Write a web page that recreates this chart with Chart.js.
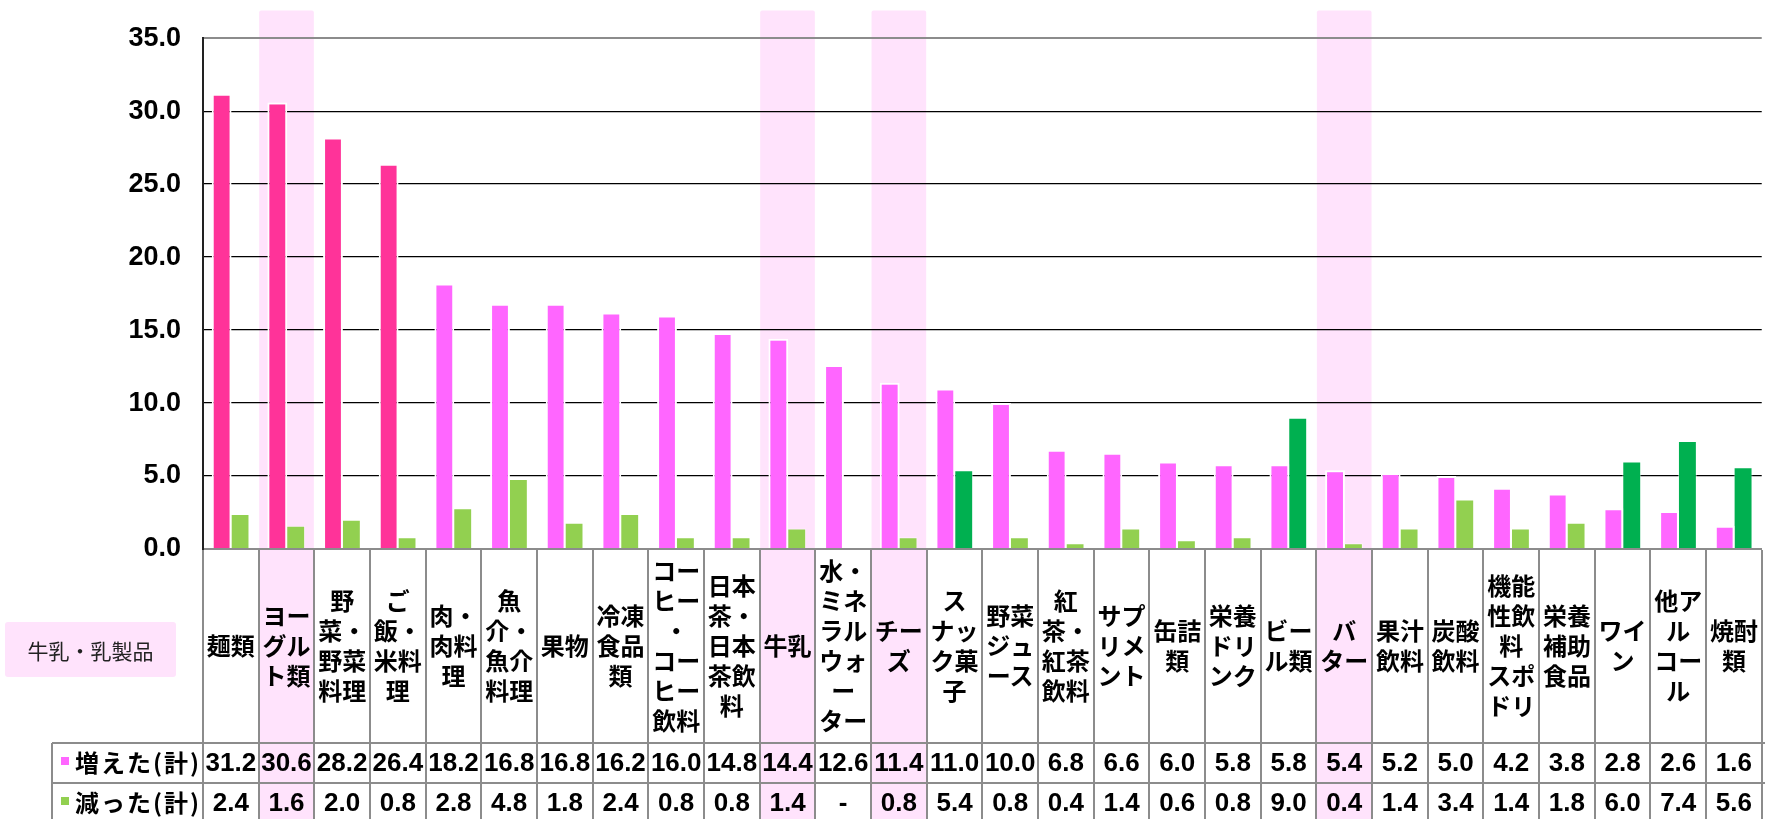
<!DOCTYPE html>
<html lang="ja">
<head>
<meta charset="utf-8">
<title>増えた・減った食品</title>
<script src="https://cdn.jsdelivr.net/npm/chart.js@4.4.1/dist/chart.umd.min.js"></script>
<style>
  html, body { margin: 0; padding: 0; background: #fff; overflow: hidden; }
  #wrap { position: relative; width: 1780px; height: 819px; }
</style>
</head>
<body>
<div id="wrap"><canvas id="food-chart"></canvas></div>
<script>
// category names, already split into the lines shown under each column
const categories = [
  ['麺類'],
  ['ヨー', 'グル', 'ト類'],
  ['野', '菜・', '野菜', '料理'],
  ['ご', '飯・', '米料', '理'],
  ['肉・', '肉料', '理'],
  ['魚', '介・', '魚介', '料理'],
  ['果物'],
  ['冷凍', '食品', '類'],
  ['コー', 'ヒー', '・', 'コー', 'ヒー', '飲料'],
  ['日本', '茶・', '日本', '茶飲', '料'],
  ['牛乳'],
  ['水・', 'ミネ', 'ラル', 'ウォ', 'ー', 'ター'],
  ['チー', 'ズ'],
  ['ス', 'ナッ', 'ク菓', '子'],
  ['野菜', 'ジュ', 'ース'],
  ['紅', '茶・', '紅茶', '飲料'],
  ['サプ', 'リメ', 'ント'],
  ['缶詰', '類'],
  ['栄養', 'ドリ', 'ンク'],
  ['ビー', 'ル類'],
  ['バ', 'ター'],
  ['果汁', '飲料'],
  ['炭酸', '飲料'],
  ['機能', '性飲', '料', 'スポ', 'ドリ'],
  ['栄養', '補助', '食品'],
  ['ワイ', 'ン'],
  ['他ア', 'ル', 'コー', 'ル'],
  ['焼酎', '類']
];

const increased = [31.2, 30.6, 28.2, 26.4, 18.2, 16.8, 16.8, 16.2, 16.0, 14.8, 14.4, 12.6, 11.4, 11.0,
                   10.0, 6.8, 6.6, 6.0, 5.8, 5.8, 5.4, 5.2, 5.0, 4.2, 3.8, 2.8, 2.6, 1.6];
const decreased = [2.4, 1.6, 2.0, 0.8, 2.8, 4.8, 1.8, 2.4, 0.8, 0.8, 1.4, null, 0.8, 5.4,
                   0.8, 0.4, 1.4, 0.6, 0.8, 9.0, 0.4, 1.4, 3.4, 1.4, 1.8, 6.0, 7.4, 5.6];

const seriesNames = ['増えた(計)', '減った(計)'];
const yTicks = [0, 5, 10, 15, 20, 25, 30, 35];
const dairyItems = ['ヨーグルト類', '牛乳', 'チーズ', 'バター'];
const dairyLabel = '牛乳・乳製品';

// bars above these values get the stronger colour
const INC_STRONG = 20;
const DEC_STRONG = 5;

const PINK = '#FF66FF', PINK_STRONG = '#FF3399';
const GREEN = '#92D050', GREEN_STRONG = '#00B050';
const BAND = '#FFE3FC';
const LINE = '#8C8C8C';

const NUM_FONT = "'Liberation Sans', Arial, sans-serif";
const JP_FONT = "'Noto Sans CJK JP', 'Noto Sans', sans-serif";

const LABEL_H = 194;   // height of the category name row
const ROW_H = 40;      // height of each value row

const isDairy = i => dairyItems.includes(categories[i].join(''));

const tablePlugin = {
  id: 'foodTable',
  beforeDraw(chart) {
    const { ctx, scales: { x } } = chart;
    const w = x.getPixelForValue(1) - x.getPixelForValue(0);
    ctx.save();
    ctx.fillStyle = BAND;
    categories.forEach((c, i) => {
      if (!isDairy(i)) return;
      const cx = x.getPixelForValue(i);
      ctx.beginPath();
      ctx.roundRect(cx - w / 2 + 0.5, 10.5, w - 1, chart.height, 2);
      ctx.fill();
    });
    ctx.restore();
  },
  afterDraw(chart) {
    const { ctx, chartArea: area, scales: { x } } = chart;
    const w = x.getPixelForValue(1) - x.getPixelForValue(0);
    const rowTop = area.bottom + LABEL_H;
    const headLeft = 52;

    ctx.save();
    ctx.strokeStyle = LINE;
    ctx.lineWidth = 2;
    ctx.beginPath();
    for (let i = 0; i <= categories.length; i++) {
      const bx = Math.round(x.getPixelForValue(0) - w / 2 + i * w);
      ctx.moveTo(bx, area.bottom + 1);
      ctx.lineTo(bx, chart.height);
    }
    for (let r = 0; r < 2; r++) {
      const ly = Math.round(rowTop + r * ROW_H);
      ctx.moveTo(headLeft, ly);
      ctx.lineTo(chart.width, ly);
    }
    ctx.moveTo(headLeft, rowTop);
    ctx.lineTo(headLeft, chart.height);
    ctx.stroke();

    // row headers with series colour keys
    const keys = [PINK, GREEN];
    [increased, decreased].forEach((vals, r) => {
      const cy = rowTop + r * ROW_H + ROW_H / 2;
      ctx.fillStyle = keys[r];
      ctx.fillRect(61, cy - 6, 8, 8);
      ctx.fillStyle = '#000';
      ctx.font = `bold 24px ${JP_FONT}`;
      ctx.textAlign = 'left';
      ctx.textBaseline = 'middle';
      ctx.letterSpacing = '2px';
      ctx.fillText(seriesNames[r], 75, cy);
      ctx.letterSpacing = '0px';

      ctx.font = `bold 26px ${NUM_FONT}`;
      ctx.textAlign = 'center';
      vals.forEach((v, i) => {
        const txt = v === null ? '-' : v.toFixed(1);
        ctx.fillText(txt, x.getPixelForValue(i), cy + 1);
      });
    });

    // key for the highlighted dairy columns
    ctx.fillStyle = BAND;
    ctx.beginPath();
    ctx.roundRect(5, 622, 171, 55, 3);
    ctx.fill();
    ctx.fillStyle = '#222';
    ctx.font = `21px ${JP_FONT}`;
    ctx.textAlign = 'center';
    ctx.fillText(dairyLabel, 90.5, 651);
    ctx.restore();
  }
};

new Chart(document.getElementById('food-chart'), {
  type: 'bar',
  data: {
    labels: categories,
    datasets: [
      {
        label: seriesNames[0],
        data: increased,
        backgroundColor: c => (c.raw >= INC_STRONG ? PINK_STRONG : PINK),
        borderColor: '#fff',
        borderWidth: 2,
        borderSkipped: 'bottom',
        barPercentage: 1.08,
        categoryPercentage: 0.66
      },
      {
        label: seriesNames[1],
        data: decreased,
        backgroundColor: c => (c.raw >= DEC_STRONG ? GREEN_STRONG : GREEN),
        borderColor: 'rgba(255,255,255,0.5)',
        borderWidth: 1,
        borderSkipped: 'bottom',
        barPercentage: 1.03,
        categoryPercentage: 0.66
      }
    ]
  },
  options: {
    responsive: true,
    maintainAspectRatio: false,
    animation: false,
    layout: { padding: { top: 23, right: 6, bottom: 76, left: 0 } },
    plugins: { legend: { display: false }, tooltip: { enabled: false } },
    scales: {
      x: {
        grid: { display: false, drawTicks: false },
        border: { color: LINE, width: 2 },
        ticks: {
          color: '#000',
          font: { family: JP_FONT, size: 24, weight: 'bold', lineHeight: 1.25 },
          crossAlign: 'center',
          padding: 22,
          autoSkip: false,
          maxRotation: 0,
          minRotation: 0
        },
        afterFit: s => { s.height = LABEL_H; }
      },
      y: {
        min: 0,
        max: 35,
        afterBuildTicks: s => { s.ticks = yTicks.map(v => ({ value: v })); },
        grid: {
          drawTicks: false,
          color: c => (c.tick.value === 35 || c.tick.value === 0 ? LINE : '#000'),
          lineWidth: c => (c.tick.value === 35 || c.tick.value === 0 ? 2 : 1.3)
        },
        border: { color: '#222', width: 2 },
        ticks: {
          color: '#000',
          padding: 22,
          font: { family: NUM_FONT, size: 27, weight: 'bold' },
          callback: v => Number(v).toFixed(1)
        },
        afterFit: s => { s.width = 203; }
      }
    }
  },
  plugins: [tablePlugin]
});
</script>
</body>
</html>
